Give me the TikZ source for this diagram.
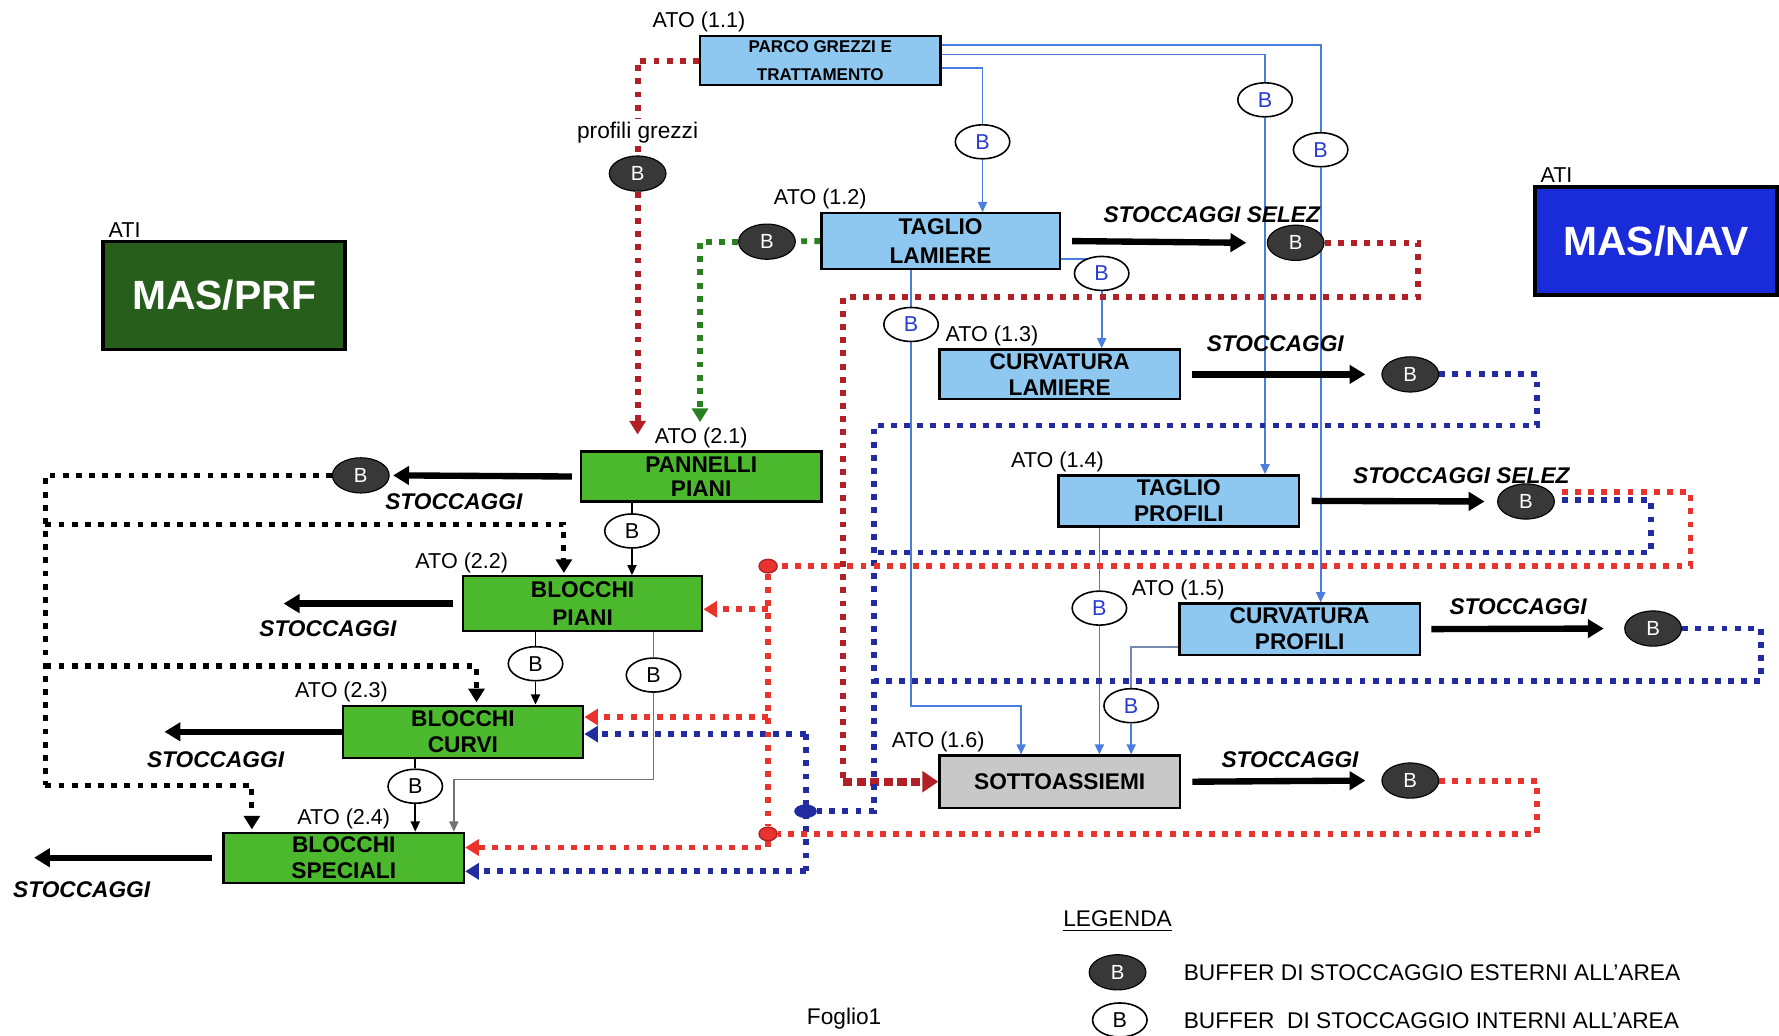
\documentclass[tikz,border=0pt]{standalone}
\usepackage{fontspec}
\setmainfont{Liberation Sans}
\usetikzlibrary{positioning,shapes.geometric,arrows.meta}

\definecolor{atoblue}{RGB}{142,200,240}
\definecolor{atogreen}{RGB}{76,184,46}
\definecolor{atigreen}{RGB}{40,94,28}
\definecolor{atiblue}{RGB}{26,44,218}
\definecolor{sottogray}{RGB}{200,200,200}
\definecolor{wireblue}{RGB}{74,126,222}
\definecolor{wireslate}{RGB}{120,136,170}
\definecolor{navydot}{RGB}{34,44,160}
\definecolor{reddot}{RGB}{232,52,44}
\definecolor{brickdot}{RGB}{176,32,38}
\definecolor{greendot}{RGB}{40,128,30}
\definecolor{bufgray}{RGB}{56,56,56}
\definecolor{bufblue}{RGB}{40,60,210}

\pgfdeclarelayer{paper}
\pgfdeclarelayer{wires}
\pgfsetlayers{paper,wires,main}

\tikzset{
  atobox/.style={draw,line width=1pt,minimum width=106pt,minimum height=22.5pt,
    inner sep=1pt,align=center,font=\fontsize{10}{11.5}\selectfont\bfseries},
  blueato/.style={atobox,fill=atoblue},
  greenato/.style={atobox,fill=atogreen},
  grayato/.style={atobox,fill=sottogray},
  atiblock/.style={draw,line width=1.6pt,minimum width=106.5pt,minimum height=47.5pt,
    text=white,font=\fontsize{18}{18}\selectfont\bfseries},
  atolbl/.style={inner sep=1pt,font=\fontsize{9.5}{11}\selectfont},
  stoclbl/.style={inner sep=0pt,font=\fontsize{10}{12}\selectfont\bfseries\itshape},
  legtext/.style={inner sep=0pt,font=\fontsize{10}{12}\selectfont},
  extbuf/.style={ellipse,draw=black,line width=0.5pt,fill=bufgray,text=white,
    minimum width=25pt,minimum height=15.5pt,inner sep=0pt,font=\fontsize{9}{9}\selectfont},
  intbuf/.style={ellipse,draw=black,line width=0.7pt,fill=white,text=bufblue,
    minimum width=24pt,minimum height=15pt,inner sep=0pt,font=\fontsize{9.5}{9.5}\selectfont},
  intbufk/.style={intbuf,text=black},
  redmark/.style={ellipse,draw=brickdot,line width=0.6pt,fill=reddot,
    minimum width=8pt,minimum height=6pt,inner sep=0pt},
  navymark/.style={ellipse,fill=navydot,minimum width=10pt,minimum height=6pt,inner sep=0pt},
  wire/.style={draw=wireblue,line width=0.8pt},
  wirearr/.style={wire,-{Triangle[length=4.5pt,width=4pt]}},
  kwire/.style={draw=black,line width=0.8pt},
  kwirearr/.style={kwire,-{Triangle[length=4.5pt,width=4pt]}},
  stock/.style={line width=2.8pt,-{Triangle[length=7pt,width=8pt]}},
  dotline/.style={line width=2.6pt,dash pattern=on 2.6pt off 3.2pt},
  dotarr/.style={dotline,-{Triangle[length=6pt,width=7pt]}},
  brickarr/.style={color=brickdot,line width=3.6pt,dash pattern=on 4pt off 2pt,
    -{Triangle[length=7pt,width=9pt]}}
}

\begin{document}
\begin{tikzpicture}[x=0.5pt,y=-0.5pt]
\begin{pgfonlayer}{paper}
\fill[white] (0,0) rectangle (1568,913);
\end{pgfonlayer}
\useasboundingbox (0,0) rectangle (1568,913);
% Drawing ATI blocks
\node[atiblock,fill=atigreen] (masprf) at (197.5,260.5) {MAS/PRF};
\node[atolbl,above right=0pt and 2pt of masprf.north west] (atiprf) {ATI};
\node[atiblock,fill=atiblue] (masnav) at (1459.5,212.5) {MAS/NAV};
\node[atolbl,above right=0pt and 2pt of masnav.north west] (atinav) {ATI};
% Drawing ATO boxes, area 1
\node[blueato,minimum height=21.5pt,font=\fontsize{7.5}{12.5}\selectfont\bfseries] (parco) at (723,53.5) {PARCO GREZZI E\\TRATTAMENTO};
\node[blueato,minimum width=105pt,minimum height=24.5pt,font=\fontsize{10}{12.5}\selectfont\bfseries] (tagliol) at (829,212.5) {TAGLIO\\LAMIERE};
\node[blueato,minimum height=22pt] (curvl) at (934,330) {CURVATURA\\LAMIERE};
\node[blueato] (tagliop) at (1039,441.5) {TAGLIO\\PROFILI};
\node[blueato] (curvp) at (1145.5,554.5) {CURVATURA\\PROFILI};
\node[grayato,minimum height=23pt] (sotto) at (934,689) {SOTTOASSIEMI};
% Drawing ATO boxes, area 2
\node[greenato,minimum height=22pt,font=\fontsize{10}{10.5}\selectfont\bfseries] (pannelli) at (618,420) {PANNELLI\\PIANI};
\node[greenato,minimum width=105.5pt,minimum height=24pt,font=\fontsize{10}{12.5}\selectfont\bfseries] (blpiani) at (513.5,532) {BLOCCHI\\PIANI};
\node[greenato,minimum height=23pt] (blcurvi) at (408,645) {BLOCCHI\\CURVI};
\node[greenato,minimum height=22pt] (blspec) at (303,756) {BLOCCHI\\SPECIALI};
% ATO labels
\node[atolbl,above=0pt of parco.north west] (ato11) {ATO (1.1)};
\node[atolbl,above=0pt of tagliol.north west] (ato12) {ATO (1.2)};
\node[atolbl,above right=0pt and 2pt of curvl.north west] (ato13) {ATO (1.3)};
\node[atolbl,above=0pt of tagliop.north west] (ato14) {ATO (1.4)};
\node[atolbl,above=0pt of curvp.north west] (ato15) {ATO (1.5)};
\node[atolbl,above=0pt of sotto.north west] (ato16) {ATO (1.6)};
\node[atolbl,above=0pt of pannelli.north] (ato21) {ATO (2.1)};
\node[atolbl,above=0pt of blpiani.north west] (ato22) {ATO (2.2)};
\node[atolbl,above=0pt of blcurvi.north west] (ato23) {ATO (2.3)};
\node[atolbl,above=0pt of blspec.north] (ato24) {ATO (2.4)};
% Done with boxes; drawing buffers
\node[atolbl,fill=white,font=\fontsize{10}{11}\selectfont] (pg) at (562,117) {profili grezzi};
\node[extbuf] (eb1) at (562,153) {B};
\node[extbuf] (eb2) at (676,213) {B};
\node[extbuf] (eb3) at (1142,214) {B};
\node[extbuf] (eb4) at (1243,330) {B};
\node[extbuf] (eb5) at (1345,442) {B};
\node[extbuf] (eb6) at (1457,554) {B};
\node[extbuf] (eb7) at (1243,688) {B};
\node[extbuf] (eb8) at (318,419) {B};
\node[intbuf] (ib1) at (866,125) {B};
\node[intbuf] (ib2) at (1115,88) {B};
\node[intbuf] (ib3) at (1164,132) {B};
\node[intbuf] (ib4) at (971,241) {B};
\node[intbuf] (ib5) at (803,286) {B};
\node[intbuf] (ib6) at (969,536) {B};
\node[intbuf] (ib7) at (997,622) {B};
\node[intbufk] (ib8) at (557,468) {B};
\node[intbufk] (ib9) at (472,585) {B};
\node[intbufk] (ib10) at (576,595) {B};
\node[intbufk] (ib11) at (366,693) {B};
\node[redmark] (dotr1) at (677,499) {};
\node[redmark] (dotr2) at (677,735) {};
\node[navymark] (dotn) at (710,715) {};
% STOCCAGGI labels
\node[stoclbl] (st1) at (1068,189) {STOCCAGGI SELEZ};
\node[stoclbl] (st2) at (1124,303) {STOCCAGGI};
\node[stoclbl] (st3) at (1288,419) {STOCCAGGI SELEZ};
\node[stoclbl] (st4) at (1338,535) {STOCCAGGI};
\node[stoclbl] (st5) at (1137,670) {STOCCAGGI};
\node[stoclbl] (st6) at (400,442) {STOCCAGGI};
\node[stoclbl] (st7) at (289,554) {STOCCAGGI};
\node[stoclbl] (st8) at (190,670) {STOCCAGGI};
\node[stoclbl] (st9) at (72,784) {STOCCAGGI};
% Legend
\node[legtext] (legtitle) at (985,812) {\underline{LEGENDA}};
\node[extbuf] (legext) at (985,857) {B};
\node[intbufk] (legint) at (987,899) {B};
\node[legtext,anchor=west] (legextlbl) at (1043,857) {BUFFER DI STOCCAGGIO ESTERNI ALL'AREA};
\node[legtext,anchor=west] (legintlbl) at (1043,900) {BUFFER\ \ DI STOCCAGGIO INTERNI ALL'AREA};
\node[legtext] (foglio) at (744,898) {Foglio1};
% Corner points of the routed lines
\coordinate (bend1) at (900,622);
\coordinate (gtip) at (617,372);
\coordinate (rtip) at (562,383);
\coordinate (c2) at (1250,262);
\coordinate (c3) at (743,262);
\coordinate (nc1) at (1355,375);
\coordinate (nc2) at (770,375);
\coordinate (nc3) at (770,715);
\coordinate (nc4) at (1552,600);
\coordinate (nc5) at (770,600);
\coordinate (nc6) at (1455,487);
\coordinate (nc7) at (770,487);
\coordinate (nv1) at (710,647);
\coordinate (nv2) at (710,768);
\coordinate (rc1) at (1490,499);
\coordinate (rc2) at (1355,735);
\coordinate (rb1) at (677,537);
\coordinate (rb2) at (677,632);
\coordinate (rb3) at (677,747);
\coordinate (kc1) at (40,692);
\coordinate (kc2) at (40,462);
\coordinate (kc3) at (40,587);
\coordinate (kt1) at (497,505);
\coordinate (kt2) at (420,619);
\coordinate (kt3) at (222,731);
\coordinate (qc1) at (400,687);
\coordinate (sp2) at (250,532);
\coordinate (sp3) at (145,645);
\coordinate (sp4) at (30,756);
\begin{pgfonlayer}{wires}
% Drawing wires
% blue: PARCO GREZZI feeds the cutting ATO
\draw[wire] ([yshift=-3.25pt]parco.east) -| (ib1);
\draw[wirearr] (ib1) -- (ib1 |- tagliol.north);
\draw[wire] ([yshift=2.75pt]parco.east) -| (ib2);
\draw[wirearr] (ib2) -- (ib2 |- tagliop.north);
\draw[wire] ([yshift=6.75pt]parco.east) -| (ib3);
\draw[wirearr] (ib3) -- (ib3 |- curvp.north);
\draw[wire] ([yshift=-7.75pt]tagliol.east) -| (ib4);
\draw[wirearr] (ib4) -- (ib4 |- curvl.north);
% blue: into SOTTOASSIEMI
\draw[wire] (tagliol.south -| ib5) -- (ib5);
\draw[wirearr] (ib5) |- (bend1) -- (bend1 |- sotto.north);
\draw[wire] (tagliop.south -| ib6) -- (ib6);
\draw[wirearr] (ib6) -- (ib6 |- sotto.north);
\draw[wire,draw=wireslate] ([yshift=-7.75pt]curvp.west) -| (ib7);
\draw[wirearr] (ib7) -- (ib7 |- sotto.north);
% black: area 2 chain
\draw[kwire] (pannelli.south -| ib8) -- (ib8);
\draw[kwirearr] (ib8) -- (ib8 |- blpiani.north);
\draw[kwire] (blpiani.south -| ib9) -- (ib9);
\draw[kwirearr] (ib9) -- (ib9 |- blcurvi.north);
\draw[kwire,draw=black!55] (blpiani.south -| ib10) -- (ib10);
\draw[kwirearr,draw=black!55] (ib10) |- (qc1) -- (qc1 |- blspec.north);
\draw[kwire] (blcurvi.south -| ib11) -- (ib11);
\draw[kwirearr] (ib11) -- (ib11 |- blspec.north);
% Done with wires; drawing STOCCAGGI arrows
\draw[stock] ([xshift=5pt]tagliol.east) -- ([xshift=-9pt]eb3.west);
\draw[stock] ([xshift=5pt]curvl.east) -- ([xshift=-7pt]eb4.west);
\draw[stock] ([xshift=5pt]tagliop.east) -- ([xshift=-5.5pt]eb5.west);
\draw[stock] ([xshift=4.5pt]curvp.east) -- ([xshift=-9pt]eb6.west);
\draw[stock] ([xshift=5pt]sotto.east) -- ([xshift=-7pt]eb7.west);
\draw[stock] ([xshift=-3.5pt]pannelli.west) -- ([xshift=1.5pt]eb8.east);
\draw[stock] ([xshift=-4pt]blpiani.west) -- (sp2);
\draw[stock] (blcurvi.west) -- (sp3);
\draw[stock] ([xshift=-4.5pt]blspec.west) -- (sp4);
% Done with arrows; drawing dotted flows
% green
\draw[dotline,color=greendot] (tagliol.west) -- (eb2);
\draw[dotarr,color=greendot] (eb2) -| (gtip);
% brick red
\draw[dotline,color=brickdot] (parco.west) -| (pg);
\draw[dotline,color=brickdot] (pg) -- (eb1);
\draw[dotarr,color=brickdot] (eb1) -- (rtip);
\draw[dotline,color=brickdot] (eb3.east) -| (c2) -- (c3) -- (c3 |- sotto.west);
\draw[brickarr] (c3 |- sotto.west) -- (sotto.west);
% navy
\draw[dotline,color=navydot] (eb4.east) -| (nc1) -- (nc2) -- (nc3) -- (dotn);
\draw[dotline,color=navydot] ([xshift=3pt,yshift=0.5pt]eb5.east) -| (nc6) -- (nc7);
\draw[dotline,color=navydot] (eb6.east) -| (nc4) -- (nc5);
\draw[dotline,color=navydot] (nv1) -- (nv2);
\draw[dotarr,color=navydot] (nv1) -- (nv1 -| blcurvi.east);
\draw[dotarr,color=navydot] (nv2) -- (nv2 -| blspec.east);
% red
\draw[dotline,color=reddot] ([xshift=3pt,yshift=4pt]eb5.east) -| (rc1) -- (dotr1);
\draw[dotline,color=reddot] (dotr1) -- (dotr2);
\draw[dotarr,color=reddot] (rb1) -- (rb1 -| blpiani.east);
\draw[dotarr,color=reddot] (rb2) -- (rb2 -| blcurvi.east);
\draw[dotarr,color=reddot] (dotr2) -- (rb3) -- (rb3 -| blspec.east);
\draw[dotline,color=reddot] (eb7.east) -| (rc2) -- (dotr2);
% black
\draw[dotline,line width=2.3pt] (eb8.west) -| (kc1);
\draw[dotarr,line width=2.3pt] (kc2) -| (kt1);
\draw[dotarr,line width=2.3pt] (kc3) -| (kt2);
\draw[dotarr,line width=2.3pt] (kc1) -| (kt3);
% Done with dotted flows
\end{pgfonlayer}
\end{tikzpicture}
\end{document}
